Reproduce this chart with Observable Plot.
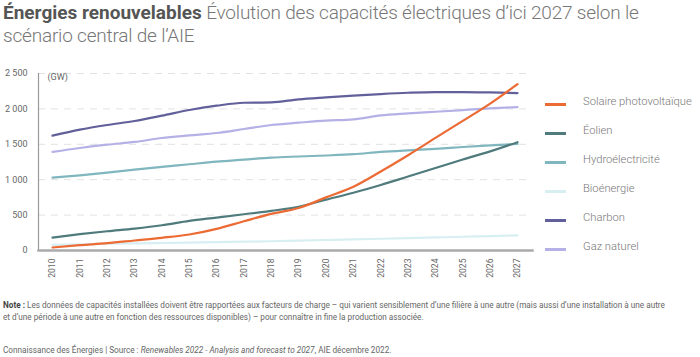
<!DOCTYPE html>
<html>
<head>
<meta charset="utf-8">
<script src="https://cdn.jsdelivr.net/npm/d3@7"></script>
<script src="https://cdn.jsdelivr.net/npm/@observablehq/plot@0.6"></script>
<style>
  html, body { margin: 0; padding: 0; background: #fff; }
  body { width: 700px; height: 357px; position: relative; overflow: hidden; font-family: Roboto, "Noto Sans", sans-serif; }
  .tl { position: absolute; left: 3px; font-size: 19px; line-height: 23px; color: #777; font-weight: 300; letter-spacing: -0.2px; white-space: nowrap; }
  .tl b { color: #555; font-weight: 700; letter-spacing: 0; }
  #chart { position: absolute; left: 0; top: 50px; }
  #legend { position: absolute; left: 545px; top: 0; }
  .lg { position: absolute; left: 0; height: 16px; width: 160px; }
  .lg .sw { position: absolute; left: 0; top: 7px; width: 21px; height: 2.5px; }
  .lg .lb { position: absolute; left: 38px; top: -1px; font-size: 11.2px; font-weight: 300; color: #777; white-space: nowrap; }
  #note { position: absolute; left: 3px; top: 299px; width: 690px; font-size: 8.2px; line-height: 12px; color: #666; }
  #note b { color: #444; }
  #credit { position: absolute; left: 3px; top: 345px; font-size: 8.2px; color: #666; }
</style>
</head>
<body>
<div class="tl" style="top:1px"><b>Énergies renouvelables</b><span> Évolution des capacités électriques d’ici 2027 selon le</span></div>
<div class="tl" style="top:24px">scénario central de l’AIE</div>
<div id="chart"></div>
<div id="legend"></div>
<div id="note"><b>Note :</b> Les données de capacités installées doivent être rapportées aux facteurs de charge – qui varient sensiblement d’une filière à une autre (mais aussi d’une installation à une autre<br>et d’une période à une autre en fonction des ressources disponibles) – pour connaître in fine la production associée.</div>
<div id="credit">Connaissance des Énergies | Source : <i>Renewables 2022 - Analysis and forecast to 2027</i>, AIE décembre 2022.</div>
<script>
const years = [2010,2011,2012,2013,2014,2015,2016,2017,2018,2019,2020,2021,2022,2023,2024,2025,2026,2027];
const solaire = [42,75,103,141,179,226,306,413,517,600,750,900,1115,1345,1590,1830,2075,2350];
const eolien = [183,230,272,310,357,419,465,512,560,618,718,815,925,1045,1165,1285,1400,1530];
const hydro = [1030,1062,1100,1142,1180,1218,1255,1283,1312,1328,1342,1360,1392,1415,1435,1462,1485,1505];
const bio = [80,88,95,100,106,112,118,124,131,140,148,157,166,175,184,194,204,215];
const charbon = [1622,1707,1773,1829,1904,1984,2045,2087,2092,2135,2163,2188,2210,2228,2238,2238,2233,2224];
const gaz = [1392,1448,1495,1533,1589,1626,1660,1716,1773,1805,1834,1852,1908,1936,1960,1984,2007,2026];
const seriesNames = ["Solaire photovoltaïque","Éolien","Hydroélectricité","Bioénergie","Charbon","Gaz naturel"];
const seriesValues = [solaire, eolien, hydro, bio, charbon, gaz];
const seriesColors = ["#ec6a33","#4f7b7d","#80b6be","#d8eff2","#62609b","#b5b1e6"];
const yTicks = [0,500,1000,1500,2000,2500];
const gridTicks = [500,1000,1500,2000,2500];
const unitLabel = ["(GW)"];

const rows = [];
seriesNames.forEach((name, i) => years.forEach((yr, j) => rows.push({serie: name, annee: yr, valeur: seriesValues[i][j]})));
const drawOrder = [3,2,5,4,1,0];
const fmt = d => d3.format(",")(d).replace(/,/g, " ");

const lineMarks = drawOrder.map(i => Plot.line(rows.filter(r => r.serie === seriesNames[i]), {
  x: "annee", y: "valeur", stroke: seriesColors[i], strokeWidth: 2.2, curve: "monotone-x"
}));

const chart = Plot.plot({
  width: 700, height: 235,
  marginTop: 23, marginBottom: 35, marginLeft: 38, marginRight: 168,
  x: {domain: [2010, 2027], insetLeft: 14, insetRight: 15},
  y: {domain: [0, 2500]},
  style: {fontFamily: "Roboto, sans-serif", fontSize: "8.6px", color: "#666", background: "transparent"},
  marks: [
    Plot.gridY(gridTicks, {stroke: "#e2e2e2", strokeOpacity: 1, strokeDasharray: "7,6"}),
    Plot.axisY(yTicks, {tickSize: 0, tickPadding: 11, tickFormat: fmt, label: null, fontSize: 9}),
    Plot.axisX(years, {tickSize: 0, tickPadding: 8, tickRotate: -90, tickFormat: d => String(d), label: null}),
    Plot.frame({anchor: "left", stroke: "#999", strokeWidth: 1.2}),
    ...lineMarks,
    Plot.frame({anchor: "bottom", stroke: "#aaa", strokeWidth: 2.5}),
    Plot.text(unitLabel, {frameAnchor: "top-left", dx: 9, dy: 0, fontSize: 9, fill: "#666", textAnchor: "start"})
  ]
});
document.getElementById("chart").appendChild(chart);

const legend = document.getElementById("legend");
seriesNames.forEach((name, i) => {
  const d = document.createElement("div");
  d.className = "lg";
  d.style.top = (96 + i * 29) + "px";
  d.innerHTML = `<div class="sw" style="background:${seriesColors[i]}"></div><div class="lb">${name}</div>`;
  legend.appendChild(d);
});
</script>
</body>
</html>
